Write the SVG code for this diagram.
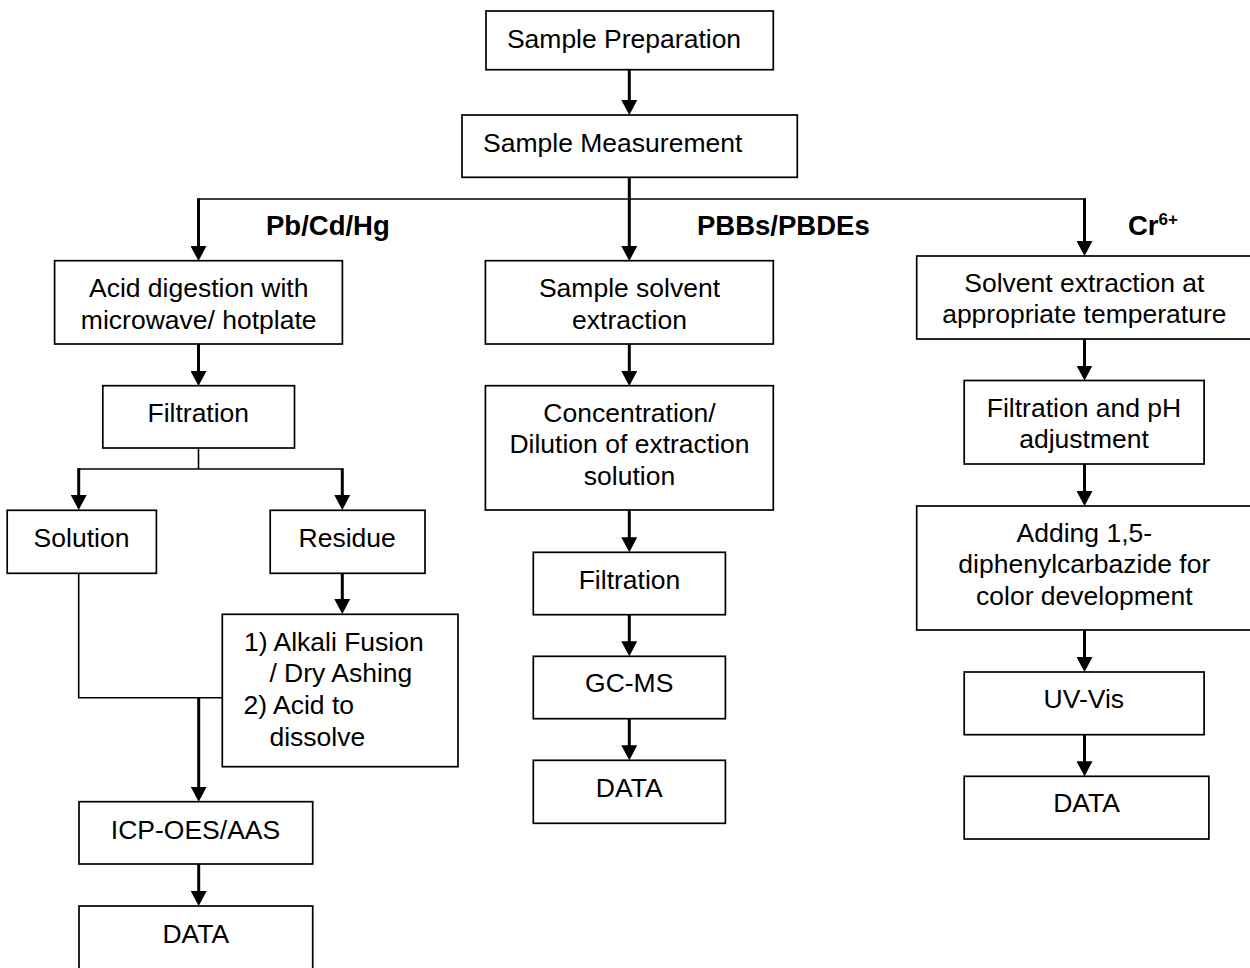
<svg xmlns="http://www.w3.org/2000/svg" width="1250" height="968" viewBox="0 0 1250 968">
<style>
  .box { fill: #fff; stroke: #000; stroke-width: 1.7; }
  .t { font-family: "Liberation Sans", Arial, sans-serif; font-size: 26.5px; fill: #000; text-anchor: middle; }
  .ts { font-family: "Liberation Sans", Arial, sans-serif; font-size: 26.5px; fill: #000; }
  .lab { font-family: "Liberation Sans", Arial, sans-serif; font-size: 27.5px; font-weight: bold; fill: #000; }
  .thin { fill: none; stroke: #000; stroke-width: 1.6; }
  .arr { fill: none; stroke: #000; stroke-width: 3; marker-end: url(#ah); }
</style>
<defs>
  <marker id="ah" viewBox="0 0 15 16" refX="5" refY="8" markerWidth="15" markerHeight="16" markerUnits="userSpaceOnUse" orient="auto">
    <path d="M0,0 L15,8 L0,16 z" fill="#000"/>
  </marker>
</defs>
<rect width="1250" height="968" fill="#fff"/>

<g id="connectors">
  <line class="arr" x1="629.3" y1="70" x2="629.3" y2="105"/>
  <line class="thin" x1="198.5" y1="199" x2="1084.5" y2="199"/>
  <line class="arr" x1="629.3" y1="177" x2="629.3" y2="251"/>
  <line class="arr" x1="198.5" y1="198.2" x2="198.5" y2="251"/>
  <line class="arr" x1="1084.5" y1="198.2" x2="1084.5" y2="246"/>
  <line class="arr" x1="198.5" y1="344" x2="198.5" y2="376"/>
  <line class="thin" x1="198.5" y1="448" x2="198.5" y2="469"/>
  <line class="thin" x1="78.7" y1="469" x2="342.3" y2="469"/>
  <line class="arr" x1="78.7" y1="468.2" x2="78.7" y2="500"/>
  <line class="arr" x1="342.3" y1="468.2" x2="342.3" y2="500"/>
  <line class="arr" x1="342.3" y1="573" x2="342.3" y2="604"/>
  <polyline class="thin" points="78.7,573 78.7,697.7 222,697.7"/>
  <line class="arr" x1="198.7" y1="697.7" x2="198.7" y2="791.7"/>
  <line class="arr" x1="198.7" y1="864" x2="198.7" y2="896"/>
  <line class="arr" x1="629.3" y1="344" x2="629.3" y2="376"/>
  <line class="arr" x1="629.3" y1="510" x2="629.3" y2="542.3"/>
  <line class="arr" x1="629.3" y1="614.7" x2="629.3" y2="646.3"/>
  <line class="arr" x1="629.3" y1="718.7" x2="629.3" y2="750.3"/>
  <line class="arr" x1="1084.5" y1="339" x2="1084.5" y2="370.5"/>
  <line class="arr" x1="1084.5" y1="464" x2="1084.5" y2="496"/>
  <line class="arr" x1="1084.5" y1="630" x2="1084.5" y2="662"/>
  <line class="arr" x1="1084.5" y1="734.7" x2="1084.5" y2="766.3"/>
</g>

<g id="labels">
  <text class="lab" x="266" y="235">Pb/Cd/Hg</text>
  <text class="lab" x="697" y="235">PBBs/PBDEs</text>
  <text class="lab" x="1128" y="235">Cr<tspan font-size="17" dy="-10">6+</tspan></text>
</g>

<g id="sample-preparation">
  <rect class="box" x="486" y="11" width="287.3" height="58.7"/>
  <text class="t" x="624" y="48">Sample Preparation</text>
</g>
<g id="sample-measurement">
  <rect class="box" x="462" y="115" width="335.3" height="62.3"/>
  <text class="t" x="612.7" y="152">Sample Measurement</text>
</g>

<g id="acid-digestion">
  <rect class="box" x="54.6" y="260.7" width="287.8" height="83.3"/>
  <text class="t" x="198.7" y="297">Acid digestion with</text>
  <text class="t" x="198.7" y="328.5">microwave/ hotplate</text>
</g>
<g id="filtration-left">
  <rect class="box" x="102.8" y="385.7" width="191.7" height="62.3"/>
  <text class="t" x="198.3" y="421.5">Filtration</text>
</g>
<g id="solution">
  <rect class="box" x="7.2" y="510.3" width="149.2" height="63"/>
  <text class="t" x="81.5" y="546.7">Solution</text>
</g>
<g id="residue">
  <rect class="box" x="270.2" y="510.3" width="154.8" height="63"/>
  <text class="t" x="347.2" y="546.7">Residue</text>
</g>
<g id="alkali-fusion">
  <rect class="box" x="222.3" y="614.3" width="235.7" height="152.4"/>
  <text class="ts" x="244" y="650.7">1) Alkali Fusion</text>
  <text class="ts" x="269.4" y="682.3">/ Dry Ashing</text>
  <text class="ts" x="243.5" y="714">2) Acid to</text>
  <text class="ts" x="269.4" y="745.7">dissolve</text>
</g>
<g id="icp-oes-aas">
  <rect class="box" x="79" y="801.7" width="233.7" height="62.3"/>
  <text class="t" x="195.5" y="839.3">ICP-OES/AAS</text>
</g>
<g id="data-left">
  <rect class="box" x="79" y="906" width="233.7" height="66"/>
  <text class="t" x="195.8" y="942.7">DATA</text>
</g>

<g id="sample-solvent-extraction">
  <rect class="box" x="485.4" y="260.7" width="287.9" height="83.3"/>
  <text class="t" x="629.5" y="297">Sample solvent</text>
  <text class="t" x="629.5" y="328.5">extraction</text>
</g>
<g id="concentration">
  <rect class="box" x="485.4" y="385.7" width="287.9" height="124.3"/>
  <text class="t" x="629.5" y="421.7">Concentration/</text>
  <text class="t" x="629.5" y="453.3">Dilution of extraction</text>
  <text class="t" x="629.5" y="485">solution</text>
</g>
<g id="filtration-mid">
  <rect class="box" x="533.3" y="552.3" width="192.1" height="62.4"/>
  <text class="t" x="629.5" y="589">Filtration</text>
</g>
<g id="gc-ms">
  <rect class="box" x="533.3" y="656.3" width="192.1" height="62.4"/>
  <text class="t" x="629.2" y="692.3">GC-MS</text>
</g>
<g id="data-mid">
  <rect class="box" x="533.3" y="760.3" width="192.1" height="63"/>
  <text class="t" x="629.2" y="796.7">DATA</text>
</g>

<g id="solvent-extraction">
  <rect class="box" x="916.7" y="256" width="340" height="83"/>
  <text class="t" x="1084.3" y="291.7">Solvent extraction at</text>
  <text class="t" x="1084.3" y="323.3">appropriate temperature</text>
</g>
<g id="filtration-ph">
  <rect class="box" x="964.2" y="380.5" width="239.9" height="83.5"/>
  <text class="t" x="1084" y="416.7">Filtration and pH</text>
  <text class="t" x="1084" y="448.3">adjustment</text>
</g>
<g id="adding-dpc">
  <rect class="box" x="916.7" y="506" width="340" height="124"/>
  <text class="t" x="1084.3" y="541.6">Adding 1,5-</text>
  <text class="t" x="1084.3" y="573.3">diphenylcarbazide for</text>
  <text class="t" x="1084.3" y="605">color development</text>
</g>
<g id="uv-vis">
  <rect class="box" x="964.2" y="672" width="239.9" height="62.7"/>
  <text class="t" x="1083.8" y="708">UV-Vis</text>
</g>
<g id="data-right">
  <rect class="box" x="964.2" y="776.3" width="244.7" height="62.7"/>
  <text class="t" x="1086.5" y="812.3">DATA</text>
</g>
</svg>
